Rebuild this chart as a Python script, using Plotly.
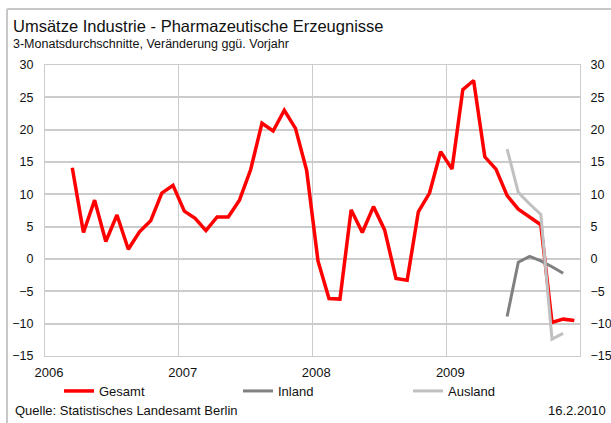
import plotly.graph_objects as go

# ---- data ----
months = [f"{y}-{m:02d}" for y in (2006, 2007, 2008, 2009) for m in range(1, 13)][2:]  # Mar 2006 .. Dec 2009
gesamt = [14.1, 4.1, 9.1, 2.7, 6.8, 1.5, 4.2, 5.9, 10.2, 11.4,
          7.4, 6.3, 4.4, 6.5, 6.5, 9.1, 13.8, 21.0, 19.8, 23.0, 20.2, 13.7,
          -0.3, -6.1, -6.2, 7.6, 4.1, 8.1, 4.5, -3.0, -3.3, 7.3, 10.2, 16.6,
          13.9, 26.2, 27.6, 15.8, 13.9, 9.8, 7.7, 6.5, 5.3, -9.8, -9.3, -9.5]
sub_months = ["2009-06", "2009-07", "2009-08", "2009-09", "2009-10", "2009-11"]
inland = [-8.9, -0.5, 0.4, -0.3, -1.2, -2.2]
ausland = [17.0, 10.3, 8.5, 6.9, -12.4, -11.5]
year_ticks = ["2006-01-01", "2007-01-01", "2008-01-01", "2009-01-01"]
year_labels = ["2006", "2007", "2008", "2009"]

title = "Umsätze Industrie - Pharmazeutische Erzeugnisse"
subtitle = "3-Monatsdurchschnitte, Veränderung ggü. Vorjahr"
source = "Quelle: Statistisches Landesamt Berlin"
date_txt = "16.2.2010"

FONT = "Liberation Sans, Arial, sans-serif"
GRID = "#cccccc"
TXT = "#111111"

fig = go.Figure()
common = dict(xperiod="M1", xperiodalignment="middle")
fig.add_trace(go.Scatter(x=months, y=gesamt, name="Gesamt", mode="lines", legend="legend",
                         line=dict(color="#ff0000", width=3.5), **common))
fig.add_trace(go.Scatter(x=sub_months, y=inland, name="Inland", mode="lines", legend="legend2",
                         line=dict(color="#808080", width=3), **common))
fig.add_trace(go.Scatter(x=sub_months, y=ausland, name="Ausland", mode="lines", legend="legend3",
                         line=dict(color="#c0c0c0", width=3), **common))
# invisible trace to activate right axis
fig.add_trace(go.Scatter(x=months[:1], y=[None], yaxis="y2", showlegend=False,
                         hoverinfo="skip", mode="lines", **common))

L, R, T, B = 45, 31, 65, 67
W, H = 611, 423
pw, ph = W - L - R, H - T - B
def px(x):
    return (x - L) / pw
def py(y):
    return (H - B - y) / ph

def leg(xpix):
    return dict(orientation="h", xref="container", yref="container",
                x=xpix / W, y=1 - 391 / H, xanchor="left", yanchor="middle",
                font=dict(size=13, family=FONT, color=TXT),
                bgcolor="rgba(0,0,0,0)", itemwidth=30)

fig.update_layout(
    width=W, height=H,
    margin=dict(l=L, r=R, t=T, b=B, autoexpand=False),
    paper_bgcolor="white", plot_bgcolor="white",
    font=dict(family=FONT, size=12.5, color=TXT),
    showlegend=True,
    legend=leg(59), legend2=leg(238), legend3=leg(408),
    xaxis=dict(type="date", range=["2006-01-01", "2010-01-01"],
               tickvals=year_ticks, ticktext=year_labels,
               ticks="outside", ticklen=4, tickcolor="rgba(0,0,0,0)",
               showgrid=True, gridcolor=GRID, gridwidth=1,
               showline=True, linecolor=GRID, mirror=True, linewidth=1,
               ticklabelshift=4, tickfont=dict(size=13)),
    yaxis=dict(range=[-15, 30], dtick=5, showgrid=True, gridcolor=GRID, gridwidth=1.5,
               zeroline=False, showline=True, linecolor=GRID, mirror=True, linewidth=1,
               ticks="outside", ticklen=8, tickcolor="rgba(0,0,0,0)",
               tickfont=dict(size=12.5)),
    yaxis2=dict(range=[-15, 30], dtick=5, overlaying="y", side="right",
                showgrid=False, zeroline=False, showline=False,
                ticks="outside", ticklen=7, tickcolor="rgba(0,0,0,0)",
                tickfont=dict(size=12.5)),
    annotations=[
        dict(text=title, x=px(11), y=py(26), xref="paper", yref="paper",
             xanchor="left", yanchor="middle", showarrow=False,
             font=dict(size=16.5, family=FONT, color=TXT)),
        dict(text=subtitle, x=px(11), y=py(44), xref="paper", yref="paper",
             xanchor="left", yanchor="middle", showarrow=False,
             font=dict(size=12.5, family=FONT, color=TXT)),
        dict(text=source, x=px(13), y=py(410), xref="paper", yref="paper",
             xanchor="left", yanchor="middle", showarrow=False,
             font=dict(size=13, family=FONT, color=TXT)),
        dict(text=date_txt, x=px(608), y=py(410), xref="paper", yref="paper",
             xanchor="right", yanchor="middle", showarrow=False,
             font=dict(size=13, family=FONT, color=TXT)),
    ],
    shapes=[
        dict(type="line", xref="paper", yref="paper", x0=px(7), x1=px(7), y0=py(9), y1=py(440),
             line=dict(color="#c8c8c8", width=2)),
        dict(type="line", xref="paper", yref="paper", x0=px(7), x1=px(640), y0=py(9), y1=py(9),
             line=dict(color="#c8c8c8", width=2)),
    ],
)

fig.write_html("out.html", config={"displayModeBar": False},
               post_script="document.body.style.margin='0';document.body.style.padding='0';")
